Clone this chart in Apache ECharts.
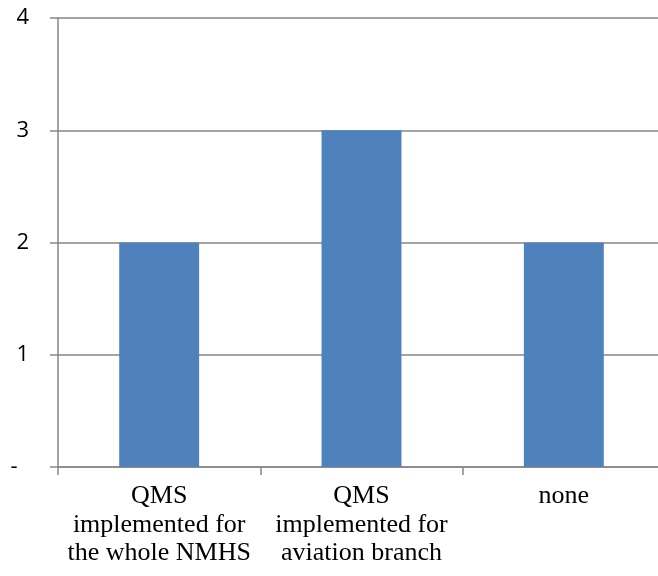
<!DOCTYPE html>
<html>
<head>
<meta charset="utf-8">
<script src="https://cdn.jsdelivr.net/npm/echarts@6/dist/echarts.min.js"></script>
<style>
  html, body { margin: 0; padding: 0; background: #fff; width: 658px; height: 576px; overflow: hidden; }
  /* plot area runs slightly past the right edge of the page */
  #chart { width: 666px; height: 576px; }
</style>
</head>
<body>
<div id="chart"></div>
<script>
// QMS implementation status: number of services per category
const categories = [
  'QMS\nimplemented for\nthe whole NMHS',
  'QMS\nimplemented for\naviation branch',
  'none'
];
const counts = [2, 3, 2];
const yTicks = [0, 1, 2, 3, 4];

const chart = echarts.init(document.getElementById('chart'), null, { renderer: 'canvas' });

chart.setOption({
  animation: false,
  grid: { left: 58, right: 1, top: 18, bottom: 109, containLabel: false },
  xAxis: {
    type: 'category',
    data: categories,
    axisLine: { lineStyle: { color: '#868686', width: 1.5 } },
    axisTick: { show: true, length: 8, lineStyle: { color: '#868686', width: 1.5 } },
    axisLabel: {
      margin: 15,
      color: '#000',
      fontFamily: '"Liberation Serif", "Times New Roman", serif',
      fontSize: 26,
      lineHeight: 28.5,
      interval: 0
    }
  },
  yAxis: {
    type: 'value',
    min: yTicks[0],
    max: yTicks[yTicks.length - 1],
    interval: 1,
    axisLine: { show: true, lineStyle: { color: '#868686', width: 1.5 } },
    axisTick: { show: true, length: 8, lineStyle: { color: '#868686', width: 1.5 } },
    splitLine: { show: true, lineStyle: { color: '#868686', width: 1.5 } },
    axisLabel: {
      margin: 29,
      color: '#000',
      fontFamily: '"Open Sans", "Noto Sans", sans-serif',
      fontSize: 22,
      // accounting-style zero: a dash padded on the right
      formatter: v => (v === 0 ? '-  ' : String(v))
    }
  },
  series: [{
    type: 'bar',
    data: counts,
    barWidth: '39.5%',
    itemStyle: { color: '#4F81BD' }
  }]
});
</script>
</body>
</html>
